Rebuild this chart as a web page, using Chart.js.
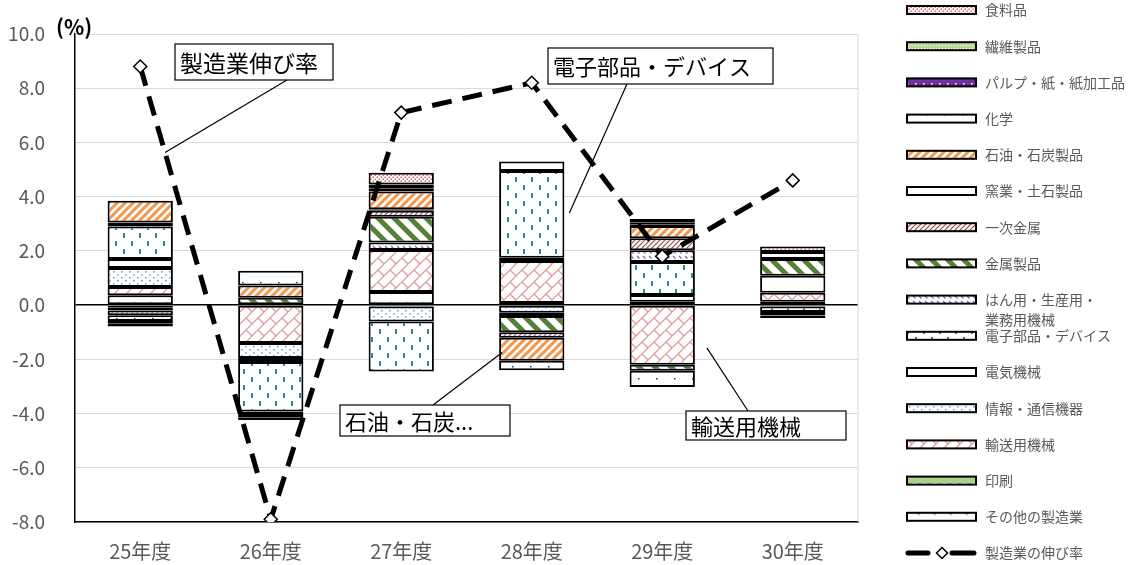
<!DOCTYPE html>
<html>
<head>
<meta charset="utf-8">
<script src="https://cdn.jsdelivr.net/npm/chart.js@4"></script>
<style>
  html, body { margin: 0; padding: 0; background: #fff; }
  #wrap { width: 1130px; height: 565px; position: relative; }
</style>
</head>
<body>
<div id="wrap"><canvas id="chart" width="1130" height="565"></canvas></div>
<script>
// 年度
const categories = ['25年度', '26年度', '27年度', '28年度', '29年度', '30年度'];

// 業種別寄与度 (%) - 積み上げの順 (下から)
const sonota   = [0.36, 0, 0.48, 0.08, 0.12, 0.12];
const insatsu  = [-0.08, 0, -0.05, 0, 0, -0.05];
const yuso     = [0.31, -1.4, 1.55, 1.55, -2.2, 0.34];
const joho     = [0.7, -0.55, -0.55, -0.28, 0, 0];
const denki    = [0.33, -0.15, 0, 0.12, 0.25, 0.62];
const denshi   = [1.2, -1.82, -1.85, 3.2, 1.22, -0.2];
const hanyo    = [0, -0.1, 0.28, -0.12, 0.43, 0];
const kinzokuS = [-0.12, 0.27, 0.95, -0.6, -0.22, 0.62];
const ichiji   = [-0.17, -0.12, 0.22, -0.2, 0.45, -0.13];
const yogyo    = [0.15, -0.1, 0.06, 0.35, 0, 0];
const sekiyu   = [0.8, 0.45, 0.65, -0.85, 0.45, 0];
const kagaku   = [-0.22, 0.55, 0.1, -0.35, -0.6, 0.26];
const pulp     = [-0.1, 0, 0.1, 0, 0.06, 0];
const seni     = [-0.1, 0, 0.06, 0, 0.08, -0.1];
const shokuryo = [0, 0, 0.43, 0, 0.12, 0.2];

// 製造業の伸び率 (%)
const growth = [8.8, -7.9, 7.1, 8.2, 1.8, 4.6];

const seriesNames = ['その他の製造業', '印刷', '輸送用機械', '情報・通信機器', '電気機械',
  '電子部品・デバイス', 'はん用・生産用・業務用機械', '金属製品', '一次金属', '窯業・土石製品',
  '石油・石炭製品', '化学', 'パルプ・紙・紙加工品', '繊維製品', '食料品'];
const seriesValues = [sonota, insatsu, yuso, joho, denki, denshi, hanyo, kinzokuS, ichiji,
  yogyo, sekiyu, kagaku, pulp, seni, shokuryo];
const lineName = '製造業の伸び率';

// 軸
const yMin = -8, yMax = 10, yStep = 2;
const unitLabel = '(%)';

const FONT = '"Noto Sans CJK JP", "Noto Sans", sans-serif';
Chart.defaults.font.family = FONT;

// ---- 模様 ----
function makePattern(w, h, bg, draw) {
  const c = document.createElement('canvas');
  c.width = w; c.height = h;
  const g = c.getContext('2d');
  g.fillStyle = bg;
  g.fillRect(0, 0, w, h);
  if (draw) draw(g, w, h);
  return g.createPattern(c, 'repeat');
}
function dots(color, pts, r) {
  return g => { g.fillStyle = color; pts.forEach(p => g.fillRect(p[0], p[1], r, r)); };
}
function slash(color, lw) {
  return (g, s) => {
    g.strokeStyle = color; g.lineWidth = lw;
    g.beginPath();
    g.moveTo(-1, s + 1); g.lineTo(s + 1, -1);
    g.moveTo(-2, 2); g.lineTo(2, -2);
    g.moveTo(s - 2, s + 2); g.lineTo(s + 2, s - 2);
    g.stroke();
  };
}
function backslash(color, lw) {
  return (g, s) => {
    g.strokeStyle = color; g.lineWidth = lw;
    g.beginPath();
    g.moveTo(-1, -1); g.lineTo(s + 1, s + 1);
    g.moveTo(s - 2, -2); g.lineTo(s + 2, 2);
    g.moveTo(-2, s - 2); g.lineTo(2, s + 2);
    g.stroke();
  };
}

const fills = [
  // その他の製造業
  makePattern(16, 13, '#fff', g => {
    g.strokeStyle = '#9b86c9'; g.lineWidth = 1.3;
    g.beginPath(); g.moveTo(6, 3); g.lineTo(9, 5.5); g.lineTo(6, 8); g.stroke();
  }),
  // 印刷
  makePattern(10, 8, '#a9d18e', g => { g.fillStyle = '#fff'; g.fillRect(2, 3, 5, 2); }),
  // 輸送用機械
  makePattern(12, 12, '#fff', g => {
    slash('#e59a9a', 1.3)(g, 12);
    g.beginPath(); g.moveTo(6, 6); g.lineTo(12, 12); g.stroke();
  }),
  // 情報・通信機器
  makePattern(8, 6, '#fff', dots('#6fa6dc', [[1, 1], [5, 4]], 1.6)),
  // 電気機械
  '#fff',
  // 電子部品・デバイス
  makePattern(16, 16, '#fff', g => {
    g.fillStyle = '#31849b';
    g.fillRect(3, 1, 2, 5); g.fillRect(11, 9, 2, 5);
  }),
  // はん用・生産用・業務用機械
  makePattern(6, 5, '#fff', g => {
    g.strokeStyle = '#7b68b0'; g.lineWidth = 1.2;
    g.beginPath(); g.moveTo(1, 1); g.lineTo(3.5, 3.5); g.stroke();
  }),
  // 金属製品
  makePattern(16, 16, '#fff', backslash('#548235', 5)),
  // 一次金属
  makePattern(5, 5, '#fff', slash('#9a4a4a', 1.2)),
  // 窯業・土石製品
  '#fff',
  // 石油・石炭製品
  makePattern(8, 8, '#fff', slash('#f79646', 3)),
  // 化学
  makePattern(18, 12, '#fff', dots('#333', [[8, 6]], 1.5)),
  // パルプ・紙・紙加工品
  makePattern(8, 8, '#7030a0', dots('#fff', [[3, 3]], 1.5)),
  // 繊維製品
  makePattern(3, 3, '#b9d996', dots('#fff', [[0, 0]], 1)),
  // 食料品
  makePattern(4, 4, '#fff', dots('#e06666', [[0.5, 0.5], [2.5, 2.5]], 1.5))
];

const datasets = seriesNames.map((name, i) => ({
  type: 'bar',
  label: name,
  data: seriesValues[i],
  backgroundColor: fills[i],
  borderColor: '#000',
  borderWidth: 2,
  borderSkipped: false,
  categoryPercentage: 0.5,
  barPercentage: 1
}));
datasets.push({
  type: 'line',
  label: lineName,
  data: growth,
  stack: 'rate',
  order: -1,
  borderColor: '#000',
  borderWidth: 5,
  borderDash: [20, 11],
  fill: false,
  tension: 0,
  pointStyle: 'rectRot',
  pointRadius: 6.5,
  pointBackgroundColor: '#fff',
  pointBorderColor: '#000',
  pointBorderWidth: 1.5
});
const lineIdx = datasets.length - 1;

// 凡例 (右側)
const legendLines = { 'はん用・生産用・業務用機械': ['はん用・生産用・', '業務用機械'] };
const sideLegend = {
  id: 'sideLegend',
  afterDraw(chart) {
    const ctx = chart.ctx;
    const x0 = 907, w = 69, h = 8, tx = 985, y0 = 10, step = 36.2;
    const bars = chart.data.datasets.filter(d => d.type !== 'line').reverse();
    ctx.save();
    ctx.font = '14px ' + FONT;
    ctx.textBaseline = 'middle';
    bars.forEach((ds, i) => {
      const cy = y0 + step * i;
      ctx.fillStyle = ds.backgroundColor;
      ctx.fillRect(x0, cy - h / 2, w, h);
      ctx.strokeStyle = '#000'; ctx.lineWidth = 2;
      ctx.strokeRect(x0, cy - h / 2, w, h);
      const lines = legendLines[ds.label] || [ds.label];
      ctx.fillStyle = '#595959';
      lines.forEach((t, k) => ctx.fillText(t, tx, cy + k * 20));
    });
    const ln = chart.data.datasets[lineIdx];
    const cy = y0 + step * bars.length;
    ctx.strokeStyle = '#000'; ctx.lineWidth = 5; ctx.lineCap = 'round';
    ctx.beginPath();
    ctx.moveTo(908, cy); ctx.lineTo(928, cy);
    ctx.moveTo(952, cy); ctx.lineTo(974, cy);
    ctx.stroke();
    ctx.lineCap = 'butt';
    ctx.beginPath();
    ctx.moveTo(942, cy - 5.5); ctx.lineTo(947.5, cy); ctx.lineTo(942, cy + 5.5); ctx.lineTo(936.5, cy); ctx.closePath();
    ctx.fillStyle = '#fff'; ctx.fill();
    ctx.lineWidth = 1.5; ctx.stroke();
    ctx.fillStyle = '#595959';
    ctx.fillText(ln.label, tx, cy);
    ctx.restore();
  }
};

// 枠と単位
const frame = {
  id: 'frame',
  beforeDatasetsDraw(chart) {
    const { ctx, chartArea: a } = chart;
    ctx.save();
    ctx.strokeStyle = '#d9d9d9'; ctx.lineWidth = 1;
    ctx.beginPath(); ctx.moveTo(a.right, a.top); ctx.lineTo(a.right, a.bottom); ctx.stroke();
    ctx.restore();
  },
  afterDraw(chart) {
    const ctx = chart.ctx;
    ctx.save();
    ctx.font = 'bold 21px ' + FONT;
    ctx.fillStyle = '#000';
    ctx.textBaseline = 'middle';
    ctx.fillText(unitLabel, 56, 27);
    ctx.restore();
  }
};

// 吹き出し
function barEdge(chart, cat, side) {
  const b = chart.getDatasetMeta(0).data[cat];
  return b.x + side * b.width / 2;
}
const callouts = [
  { text: '製造業伸び率', box: [175, 44, 158, 36], size: 23, from: [287, 80],
    anchor: c => { const m = c.getDatasetMeta(lineIdx).data, t = 0.19;
      return [m[0].x + (m[1].x - m[0].x) * t, m[0].y + (m[1].y - m[0].y) * t]; } },
  { text: '電子部品・デバイス', box: [548, 48, 225, 36], size: 22, from: [627, 84],
    anchor: c => [barEdge(c, 3, 1) + 5, c.scales.y.getPixelForValue(3.4)] },
  { text: '石油・石炭...', box: [340, 405, 170, 31], size: 22, from: [433, 405],
    anchor: c => [barEdge(c, 3, -1) + 3, c.scales.y.getPixelForValue(-1.75)] },
  { text: '輸送用機械', box: [686, 411, 160, 29], size: 22, from: [748, 411],
    anchor: c => [barEdge(c, 4, 1) + 12, c.scales.y.getPixelForValue(-1.58)] }
];
const calloutPlugin = {
  id: 'callouts',
  afterDatasetsDraw(chart) {
    const ctx = chart.ctx;
    ctx.save();
    callouts.forEach(co => {
      const [ax, ay] = co.anchor(chart);
      ctx.strokeStyle = '#000'; ctx.lineWidth = 1.2;
      ctx.beginPath(); ctx.moveTo(co.from[0], co.from[1]); ctx.lineTo(ax, ay); ctx.stroke();
      const [bx, by, bw, bh] = co.box;
      ctx.fillStyle = '#fff'; ctx.fillRect(bx, by, bw, bh);
      ctx.lineWidth = 1.2; ctx.strokeRect(bx, by, bw, bh);
      ctx.fillStyle = '#000';
      ctx.font = co.size + 'px ' + FONT;
      ctx.textBaseline = 'middle';
      ctx.fillText(co.text, bx + 5, by + bh / 2 + 1);
    });
    ctx.restore();
  }
};

new Chart(document.getElementById('chart'), {
  type: 'bar',
  data: { labels: categories, datasets: datasets },
  options: {
    responsive: false,
    animation: false,
    layout: { padding: { top: 34, right: 272, left: 0, bottom: 0 } },
    plugins: { legend: { display: false }, tooltip: { enabled: false } },
    scales: {
      x: {
        stacked: true,
        grid: { display: false, drawTicks: false },
        border: { color: '#000', width: 1.5 },
        ticks: { color: '#595959', font: { size: 20 }, padding: 17 },
        afterFit: s => { s.height = 43; }
      },
      y: {
        stacked: true,
        min: yMin,
        max: yMax,
        ticks: {
          stepSize: yStep,
          color: '#595959',
          font: { size: 19 },
          padding: 30,
          callback: v => v.toFixed(1)
        },
        grid: {
          drawTicks: false,
          color: c => c.tick.value === 0 ? '#000' : '#d9d9d9',
          lineWidth: c => c.tick.value === 0 ? 1.5 : 1
        },
        border: { color: '#000', width: 1.5 },
        afterFit: s => { s.width = 75; s.paddingTop = 12; s.paddingBottom = 12; }
      }
    }
  },
  plugins: [frame, calloutPlugin, sideLegend]
});
</script>
</body>
</html>
